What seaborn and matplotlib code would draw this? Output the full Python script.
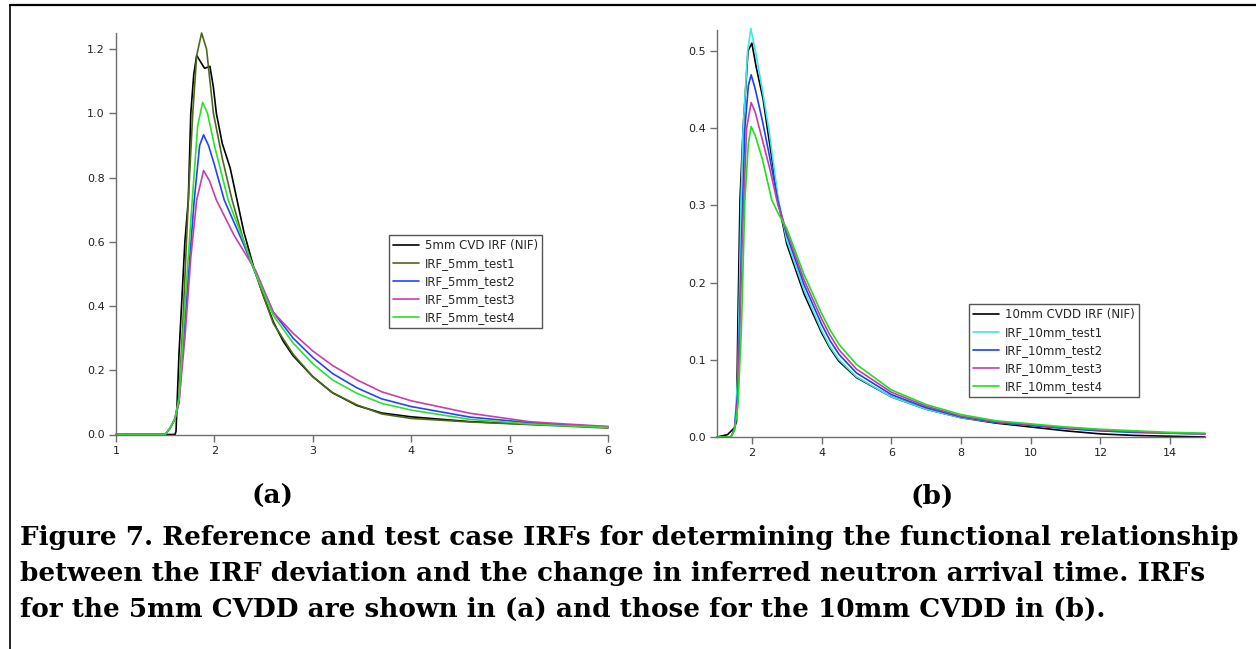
import numpy as np
import pandas as pd
import matplotlib
matplotlib.use("Agg")
import matplotlib.pyplot as plt
from matplotlib.lines import Line2D
import seaborn as sns

# ---------------- panel (a): 5mm CVDD ----------------
a_names = ["5mm CVD IRF (NIF)", "IRF_5mm_test1", "IRF_5mm_test2",
           "IRF_5mm_test3", "IRF_5mm_test4"]
a_colors = ["#000000", "#4b6a1c", "#2244ff", "#c83fa8", "#2ee02e"]

a_ref_t = [1.0, 1.6, 1.61, 1.64, 1.7, 1.735, 1.76, 1.79, 1.82, 1.86, 1.90, 1.955,
           1.99, 2.02, 2.08, 2.16, 2.23, 2.3, 2.4, 2.5, 2.6, 2.7, 2.8, 3.0, 3.2,
           3.45, 3.7, 4.0, 4.6, 5.2, 5.5, 6.0]
a_ref_v = [0.0, 0.0, 0.01, 0.25, 0.6, 0.73, 1.0, 1.12, 1.18, 1.16, 1.14, 1.146,
           1.08, 1.0, 0.906, 0.83, 0.73, 0.63, 0.52, 0.43, 0.35, 0.29, 0.245, 0.18,
           0.13, 0.09, 0.067, 0.055, 0.04, 0.032, 0.029, 0.022]

a_t1_t = [1.0, 1.5, 1.55, 1.6, 1.64, 1.68, 1.735, 1.78, 1.82, 1.87, 1.92, 1.99,
          2.08, 2.18, 2.3, 2.42, 2.5, 2.6, 2.8, 3.0, 3.2, 3.45, 3.7, 4.0, 4.6,
          5.2, 5.5, 6.0]
a_t1_v = [0.0, 0.0, 0.02, 0.05, 0.12, 0.35, 0.73, 1.0, 1.18, 1.25, 1.2, 1.0,
          0.86, 0.73, 0.6, 0.5, 0.43, 0.345, 0.25, 0.18, 0.13, 0.092, 0.064, 0.05,
          0.039, 0.031, 0.027, 0.02]

a_t2_t = [1.0, 1.5, 1.55, 1.6, 1.64, 1.7, 1.795, 1.85, 1.89, 1.94, 2.0, 2.1,
          2.3, 2.42, 2.6, 2.8, 3.0, 3.2, 3.45, 3.7, 4.0, 4.6, 5.2, 5.5, 6.0]
a_t2_v = [0.0, 0.0, 0.02, 0.05, 0.1, 0.35, 0.73, 0.9, 0.933, 0.9, 0.84, 0.73,
          0.59, 0.5, 0.38, 0.3, 0.24, 0.19, 0.145, 0.111, 0.087, 0.054, 0.037,
          0.031, 0.024]

a_t3_t = [1.0, 1.5, 1.55, 1.6, 1.64, 1.7, 1.76, 1.82, 1.89, 1.95, 2.02, 2.2,
          2.42, 2.6, 2.8, 3.0, 3.2, 3.45, 3.7, 4.0, 4.6, 5.2, 5.5, 6.0]
a_t3_v = [0.0, 0.0, 0.02, 0.05, 0.1, 0.3, 0.55, 0.73, 0.822, 0.79, 0.73, 0.62,
          0.51, 0.38, 0.315, 0.26, 0.215, 0.17, 0.133, 0.105, 0.066, 0.04,
          0.034, 0.025]

a_t4_t = [1.0, 1.5, 1.55, 1.6, 1.64, 1.7, 1.775, 1.83, 1.88, 1.93, 2.0, 2.14,
          2.3, 2.42, 2.6, 2.8, 3.0, 3.2, 3.45, 3.7, 4.0, 4.6, 5.2, 5.5, 6.0]
a_t4_v = [0.0, 0.0, 0.02, 0.05, 0.11, 0.4, 0.73, 0.96, 1.034, 1.0, 0.9, 0.73,
          0.6, 0.5, 0.37, 0.285, 0.22, 0.17, 0.128, 0.097, 0.076, 0.047, 0.033,
          0.028, 0.022]

a_xticks = [1, 2, 3, 4, 5, 6]
a_yticks = [0.0, 0.2, 0.4, 0.6, 0.8, 1.0, 1.2]

# ---------------- panel (b): 10mm CVDD ----------------
b_names = ["10mm CVDD IRF (NIF)", "IRF_10mm_test1", "IRF_10mm_test2",
           "IRF_10mm_test3", "IRF_10mm_test4"]
b_colors = ["#000000", "#3fe6e6", "#1f3ff2", "#c23fa2", "#22dd22"]

b_ref_t = [1.0, 1.3, 1.5, 1.56, 1.6, 1.66, 1.75, 1.89, 2.0, 2.12, 2.32, 2.46,
           2.61, 2.75, 3.0, 3.5, 4.0, 4.24, 4.5, 5.0, 6.0, 7.0, 8.0, 9.0, 10.0,
           11.0, 12.0, 13.0, 14.0, 15.0]
b_ref_v = [0.0, 0.003, 0.012, 0.02, 0.15, 0.307, 0.4, 0.5, 0.51, 0.48, 0.438,
           0.395, 0.35, 0.307, 0.25, 0.185, 0.135, 0.115, 0.098, 0.077, 0.052,
           0.036, 0.025, 0.018, 0.013, 0.008, 0.004, 0.002, 0.001, 0.0]

b_t1_t = [1.0, 1.4, 1.5, 1.6, 1.69, 1.75, 1.88, 1.97, 2.1, 2.3, 2.5, 2.75,
          3.0, 3.5, 4.0, 4.24, 4.5, 5.0, 6.0, 7.0, 8.0, 9.0, 10.0, 11.0, 12.0,
          13.0, 14.0, 15.0]
b_t1_v = [0.0, 0.0, 0.01, 0.08, 0.307, 0.4, 0.5, 0.529, 0.5, 0.45, 0.395,
          0.31, 0.255, 0.19, 0.138, 0.117, 0.1, 0.078, 0.052, 0.036, 0.025,
          0.019, 0.015, 0.011, 0.008, 0.006, 0.005, 0.004]

b_t2_t = [1.0, 1.4, 1.5, 1.6, 1.72, 1.8, 1.9, 1.98, 2.1, 2.3, 2.5, 2.75,
          3.0, 3.5, 4.0, 4.24, 4.5, 5.0, 6.0, 7.0, 8.0, 9.0, 10.0, 11.0, 12.0,
          13.0, 14.0, 15.0]
b_t2_v = [0.0, 0.0, 0.01, 0.06, 0.28, 0.4, 0.455, 0.469, 0.45, 0.41, 0.365,
          0.305, 0.262, 0.197, 0.146, 0.125, 0.107, 0.083, 0.055, 0.038, 0.026,
          0.019, 0.015, 0.011, 0.008, 0.006, 0.005, 0.004]

b_t3_t = [1.0, 1.4, 1.5, 1.6, 1.72, 1.85, 1.98, 2.1, 2.3, 2.5, 2.75, 3.0,
          3.5, 4.0, 4.24, 4.5, 5.0, 6.0, 7.0, 8.0, 9.0, 10.0, 11.0, 12.0, 13.0,
          14.0, 15.0]
b_t3_v = [0.0, 0.0, 0.01, 0.05, 0.25, 0.4, 0.433, 0.42, 0.385, 0.35, 0.3,
          0.266, 0.203, 0.153, 0.132, 0.113, 0.088, 0.058, 0.04, 0.027, 0.02,
          0.016, 0.012, 0.009, 0.007, 0.005, 0.004]

b_t4_t = [1.0, 1.4, 1.5, 1.6, 1.7, 1.8, 1.9, 1.98, 2.1, 2.3, 2.57, 2.75, 3.0,
          3.5, 4.0, 4.24, 4.5, 5.0, 6.0, 7.0, 8.0, 9.0, 10.0, 11.0, 12.0, 13.0,
          14.0, 15.0]
b_t4_v = [0.0, 0.0, 0.008, 0.04, 0.14, 0.307, 0.38, 0.402, 0.39, 0.36, 0.307,
          0.29, 0.27, 0.21, 0.16, 0.139, 0.12, 0.094, 0.061, 0.042, 0.029,
          0.021, 0.017, 0.013, 0.01, 0.008, 0.006, 0.005]

b_xticks = [2, 4, 6, 8, 10, 12, 14]
b_yticks = [0.0, 0.1, 0.2, 0.3, 0.4, 0.5]


def long_frame(names, ts, vs):
    parts = []
    for n, t, v in zip(names, ts, vs):
        parts.append(pd.DataFrame({"t": t, "v": v, "series": n}))
    return pd.concat(parts, ignore_index=True)


df_a = long_frame(a_names, [a_ref_t, a_t1_t, a_t2_t, a_t3_t, a_t4_t],
                  [a_ref_v, a_t1_v, a_t2_v, a_t3_v, a_t4_v])
df_b = long_frame(b_names, [b_ref_t, b_t1_t, b_t2_t, b_t3_t, b_t4_t],
                  [b_ref_v, b_t1_v, b_t2_v, b_t3_v, b_t4_v])

sns.set_theme(style="white")
plt.rcParams["font.family"] = ["DejaVu Sans"]

W, H = 1256, 649
fig = plt.figure(figsize=(W / 100, H / 100), dpi=100)
fig.patch.set_facecolor("white")


def px_axes(left, top, right, bottom):
    return fig.add_axes([left / W, 1 - bottom / H, (right - left) / W,
                         (bottom - top) / H])


ax_a = px_axes(116, 33, 608, 434.5)
ax_b = px_axes(717, 30, 1205, 437)

spine_col = "#6e6e6e"


def style_axes(ax, xlim, ylim, xticks, yticks, yfmt):
    ax.set_xlim(*xlim)
    ax.set_ylim(*ylim)
    ax.set_xticks(xticks)
    ax.set_yticks(yticks)
    ax.set_yticklabels([yfmt.format(v) for v in yticks])
    for s in ["top", "right"]:
        ax.spines[s].set_visible(False)
    for s in ["left", "bottom"]:
        ax.spines[s].set_color(spine_col)
        ax.spines[s].set_linewidth(1.0)
    ax.tick_params(axis="both", direction="out", length=5, width=1.0,
                   color=spine_col, labelsize=8, labelcolor="#222222", pad=3,
                   bottom=True, left=True)
    ax.set_xlabel("")
    ax.set_ylabel("")
    ax.set_facecolor("white")
    ax.grid(False)


for ax, df, names, cols in [(ax_a, df_a, a_names, a_colors),
                            (ax_b, df_b, b_names, b_colors)]:
    sns.lineplot(data=df, x="t", y="v", hue="series", hue_order=names,
                 palette=dict(zip(names, cols)), estimator=None, sort=False,
                 linewidth=1.2, ax=ax, legend=False, clip_on=False)

style_axes(ax_a, (1, 6), (0, 1.25), a_xticks, a_yticks, "{:.1f}")
style_axes(ax_b, (1, 15), (0, 0.527), b_xticks, b_yticks, "{:.1f}")


def add_legend(ax, names, cols, loc_px):
    handles = [Line2D([0], [0], color=c, lw=1.2) for c in cols]
    x0, y0 = loc_px
    leg = ax.legend(handles, names, loc="lower left",
                    bbox_to_anchor=(x0 / W, 1 - y0 / H),
                    bbox_transform=fig.transFigure, fontsize=8.5,
                    frameon=True, fancybox=False, handlelength=2.2,
                    handletextpad=0.5, borderpad=0.35, labelspacing=0.42,
                    borderaxespad=0.0)
    fr = leg.get_frame()
    fr.set_edgecolor("#555555")
    fr.set_linewidth(1.0)
    fr.set_alpha(1)
    return leg


add_legend(ax_a, a_names, a_colors, (389, 328))
add_legend(ax_b, b_names, b_colors, (969, 397))

# panel tags and caption
cap_font = dict(family="DejaVu Serif", fontweight="bold", color="black")
fig.text(272 / W, 1 - 496 / H, "(a)", ha="center", va="center", fontsize=19,
         **cap_font)
fig.text(932 / W, 1 - 496 / H, "(b)", ha="center", va="center", fontsize=19,
         **cap_font)
caption = [
    "Figure 7. Reference and test case IRFs for determining the functional relationship",
    "between the IRF deviation and the change in inferred neutron arrival time. IRFs",
    "for the 5mm CVDD are shown in (a) and those for the 10mm CVDD in (b).",
]
for i, line in enumerate(caption):
    fig.text(20 / W, 1 - (537 + 36 * i) / H, line, ha="left", va="center",
             fontsize=18.9, **cap_font)

# frame lines along the top and left edge of the figure
fig.add_artist(Line2D([10 / W, 1.0], [1 - 5 / H, 1 - 5 / H], color="black",
                      lw=1.6, transform=fig.transFigure))
fig.add_artist(Line2D([10 / W, 10 / W], [0, 1 - 5 / H], color="black",
                      lw=1.2, transform=fig.transFigure))

fig.savefig("out.png", dpi=100, facecolor="white")
